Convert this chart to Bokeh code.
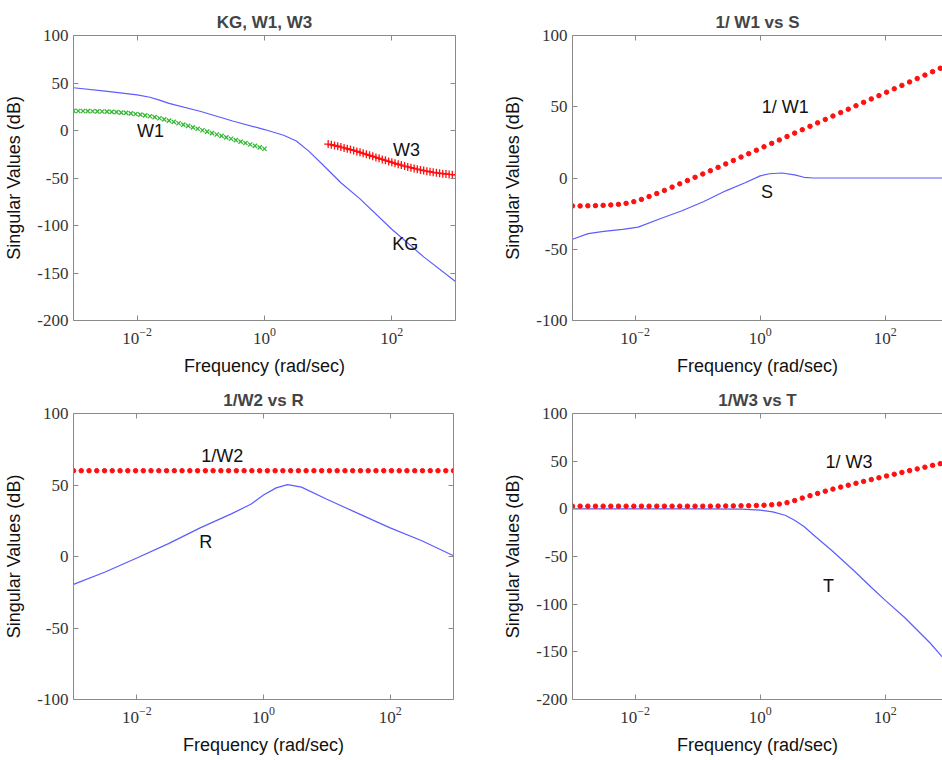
import numpy as np
from bokeh.plotting import figure
from bokeh.models import Range1d, FixedTicker, LogAxis, LinearAxis, Label, ColumnDataSource
from bokeh.layouts import column, row
from bokeh.embed import file_html
from bokeh.resources import INLINE

# ---------------- data (frequency exponents log10(rad/s), values in dB) ----------------
# panel 1: KG, W1, W3
KG_EXP = [-3.0, -2.5, -2.0, -1.8, -1.65, -1.5, -1.0, -0.5, 0.0, 0.3, 0.5, 0.7, 0.9, 1.2, 1.5, 2.0, 2.5, 3.0]
KG_DB = [45, 41.5, 37.5, 35, 32, 28.5, 20, 10, 1, -5, -11, -22, -35, -55, -72, -104, -133, -159]

W1_EXP = [-3.0, -2.925, -2.85, -2.775, -2.7, -2.625, -2.55, -2.475, -2.4, -2.325, -2.25,
          -2.175, -2.1, -2.025, -1.95, -1.875, -1.8, -1.725, -1.65, -1.575, -1.5,
          -1.425, -1.35, -1.275, -1.2, -1.125, -1.05, -0.975, -0.9, -0.825, -0.75,
          -0.675, -0.6, -0.525, -0.45, -0.375, -0.3, -0.225, -0.15, -0.075, 0.0]
W1_DB = [20.6, 20.5, 20.5, 20.4, 20.3, 20.2, 20.0, 19.8, 19.6, 19.3, 18.9,
         18.5, 18.0, 17.4, 16.7, 15.9, 15.0, 14.0, 12.9, 11.7, 10.4,
         9.0, 7.6, 6.2, 4.8, 3.3, 1.8, 0.3, -1.2, -2.7, -4.2,
         -5.7, -7.2, -8.7, -10.2, -11.7, -13.2, -14.7, -16.2, -17.7, -19.2]

W3_EXP = [1.0, 1.05, 1.1, 1.15, 1.2, 1.25, 1.3, 1.35, 1.4, 1.45, 1.5,
          1.55, 1.6, 1.65, 1.7, 1.75, 1.8, 1.85, 1.9, 1.95, 2.0,
          2.05, 2.1, 2.15, 2.2, 2.25, 2.3, 2.35, 2.4, 2.45, 2.5,
          2.55, 2.6, 2.65, 2.7, 2.75, 2.8, 2.85, 2.9, 2.95, 3.0]
W3_DB = [-14.3, -15.0, -15.8, -16.6, -17.4, -18.3, -19.2, -20.1, -21.0, -22.0, -23.0,
         -24.0, -25.1, -26.1, -27.2, -28.3, -29.3, -30.4, -31.4, -32.5, -33.5,
         -34.5, -35.5, -36.4, -37.4, -38.3, -39.1, -39.9, -40.7, -41.5, -42.2,
         -42.8, -43.4, -44.0, -44.5, -45.0, -45.4, -45.8, -46.2, -46.5, -46.8]

# shared dotted-curve frequency grid
DOT_EXP = [-3.0, -2.878, -2.755, -2.633, -2.51, -2.388, -2.265, -2.143, -2.02, -1.898,
           -1.776, -1.653, -1.531, -1.408, -1.286, -1.163, -1.041, -0.918, -0.796, -0.673,
           -0.551, -0.429, -0.306, -0.184, -0.061, 0.061, 0.184, 0.306, 0.429, 0.551,
           0.673, 0.796, 0.918, 1.041, 1.163, 1.286, 1.408, 1.531, 1.653, 1.776,
           1.898, 2.02, 2.143, 2.265, 2.388, 2.51, 2.633, 2.755, 2.878, 3.0]

# panel 2: 1/W1 vs S
INV_W1_DB = [-19.6, -19.6, -19.5, -19.4, -19.2, -18.9, -18.5, -17.8, -16.6, -15.0,
             -13.0, -10.9, -8.7, -6.4, -4.1, -1.8, 0.5, 2.8, 5.1, 7.5,
             9.9, 12.3, 14.7, 17.1, 19.5, 21.9, 24.3, 26.7, 29.1, 31.5,
             33.9, 36.3, 38.7, 41.1, 43.5, 45.9, 48.3, 50.7, 53.1, 55.5,
             57.8, 60.2, 62.6, 65.0, 67.4, 69.8, 72.2, 74.6, 77.0, 79.4]
S_EXP = [-3.0, -2.75, -2.5, -2.2, -1.95, -1.6, -1.25, -0.9, -0.55, -0.25, 0.0, 0.15, 0.35, 0.55, 0.7, 0.85, 1.5, 3.0]
S_DB = [-43, -39, -37.5, -36, -34.5, -28.6, -23, -16.5, -9, -3.5, 1.5, 3.0, 3.5, 2.2, 0.5, 0.0, 0.0, 0.0]

# panel 3: 1/W2 vs R
INV_W2_DB = [60, 60, 60, 60, 60, 60, 60, 60, 60, 60,
             60, 60, 60, 60, 60, 60, 60, 60, 60, 60,
             60, 60, 60, 60, 60, 60, 60, 60, 60, 60,
             60, 60, 60, 60, 60, 60, 60, 60, 60, 60,
             60, 60, 60, 60, 60, 60, 60, 60, 60, 60]
R_EXP = [-3.0, -2.5, -2.0, -1.5, -1.0, -0.5, -0.2, 0.0, 0.2, 0.38, 0.6, 1.0, 1.5, 2.0, 2.5, 3.0]
R_DB = [-19.5, -10.8, -1.0, 9, 20, 30, 36.5, 43, 48, 50.3, 48.5, 40, 30, 20, 11, 0.5]

# panel 4: 1/W3 vs T
INV_W3_DB = [2.8, 2.8, 2.8, 2.8, 2.8, 2.8, 2.8, 2.8, 2.8, 2.8,
             2.8, 2.8, 2.8, 2.8, 2.8, 2.8, 2.8, 2.8, 2.8, 2.9,
             3.0, 3.1, 3.2, 3.3, 3.5, 3.8, 4.3, 5.0, 6.5, 8.7,
             11.3, 13.8, 16.2, 18.5, 20.7, 22.8, 24.8, 26.8, 28.8, 30.7,
             32.6, 34.5, 36.3, 38.2, 40.1, 41.9, 43.7, 45.6, 47.4, 49.0]
T_EXP = [-3.0, -1.0, -0.3, 0.0, 0.2, 0.4, 0.55, 0.7, 0.9, 1.14, 1.5, 1.77, 2.0, 2.3, 2.72, 3.0]
T_DB = [0.0, 0.0, -0.3, -1.3, -3.2, -6.7, -12, -18.5, -30, -43.4, -65, -82, -96, -113.5, -141, -162]

X_TICKS = [1e-2, 1e0, 1e2]
Y_TICKS_300 = [-200, -150, -100, -50, 0, 50, 100]
Y_TICKS_200 = [-100, -50, 0, 50, 100]

# ---------------- styling ----------------
SANS = "Liberation Sans"
SERIF = "Liberation Serif"
AX_COLOR = "#8a8a8a"
BLUE = "#5c5cff"
RED = "#ff1010"
GREEN = "#33b833"


def f(exps):
    return [10.0 ** e for e in exps]


def style_axis(ax, show_labels=True):
    ax.axis_line_color = AX_COLOR
    ax.major_tick_line_color = AX_COLOR
    ax.major_tick_in = 5
    ax.major_tick_out = 0
    ax.minor_tick_line_color = None
    ax.major_label_text_font = SERIF
    ax.major_label_text_font_size = "17px"
    ax.major_label_text_color = "#333333"
    ax.axis_label_text_font = SANS
    ax.axis_label_text_font_size = "18px"
    ax.axis_label_text_font_style = "normal"
    ax.axis_label_text_color = "#111111"
    if not show_labels:
        ax.major_label_text_font_size = "1px"
        ax.major_label_text_color = None
        ax.major_label_standoff = 0


def panel(title, ylo, yhi, yticks, xhi, width, height, bl, br, bt, bb, right_axis):
    p = figure(width=width, height=height, x_axis_type="log",
               x_range=Range1d(1e-3, xhi), y_range=Range1d(ylo, yhi),
               output_backend="svg", toolbar_location=None,
               min_border_left=bl, min_border_right=br,
               min_border_top=bt, min_border_bottom=bb,
               title=title)
    p.title.text_font = SANS
    p.title.text_font_size = "17px"
    p.title.text_font_style = "bold"
    p.title.align = "center"
    p.title.standoff = 7
    p.outline_line_color = None
    p.xgrid.grid_line_color = None
    p.ygrid.grid_line_color = None
    p.background_fill_color = "white"
    p.border_fill_color = "white"

    p.xaxis.ticker = FixedTicker(ticks=X_TICKS, minor_ticks=[])
    p.yaxis.ticker = FixedTicker(ticks=yticks, minor_ticks=[])
    p.yaxis.major_label_overrides = {t: str(t) for t in yticks}
    p.xaxis.axis_label = "Frequency (rad/sec)"
    p.yaxis.axis_label = "Singular Values (dB)"
    for ax in p.xaxis + p.yaxis:
        style_axis(ax)
    p.xaxis.major_label_standoff = 7
    p.xaxis.axis_label_standoff = 9
    p.yaxis.major_label_standoff = 5
    p.yaxis.axis_label_standoff = 10

    top = LogAxis(ticker=FixedTicker(ticks=X_TICKS, minor_ticks=[]))
    style_axis(top, show_labels=False)
    p.add_layout(top, "above")
    if right_axis:
        rt = LinearAxis(ticker=FixedTicker(ticks=yticks, minor_ticks=[]))
        style_axis(rt, show_labels=False)
        p.add_layout(rt, "right")
    return p


def label(p, x_exp, y, text):
    p.add_layout(Label(x=10.0 ** x_exp, y=y, text=text, text_align="center",
                       text_baseline="middle", text_font=SANS, text_font_size="18px",
                       text_color="#111111"))


XHI_RIGHT = 10.0 ** 2.914

# panel 1
p1 = panel("KG, W1, W3", -200, 100, Y_TICKS_300, 1e3,
           500, 380, 73, 45, 32, 60, True)
p1.line(f(KG_EXP), KG_DB, line_color=BLUE, line_width=1.2)
p1.scatter(f(W1_EXP), W1_DB, marker="x", size=6, line_color=GREEN, line_width=1.3)
p1.scatter(f(W3_EXP), W3_DB, marker="cross", size=8, line_color=RED, line_width=1.3)
label(p1, -1.79, 0, "W1")
label(p1, 2.23, -20, "W3")
label(p1, 2.21, -119, "KG")

# panel 2
p2 = panel("1/ W1 vs S", -100, 100, Y_TICKS_200, XHI_RIGHT,
           442, 380, 70, 0, 35, 60, False)
p2.line(f(S_EXP), S_DB, line_color=BLUE, line_width=1.2)
p2.scatter(f(DOT_EXP), INV_W1_DB, marker="circle", size=4.5, fill_color=RED, line_color=RED)
label(p2, 0.40, 50, "1/ W1")
label(p2, 0.11, -10, "S")

# panel 3
p3 = panel("1/W2 vs R", -100, 100, Y_TICKS_200, 1e3,
           500, 380, 73, 47, 33, 60, True)
p3.line(f(R_EXP), R_DB, line_color=BLUE, line_width=1.2)
p3.scatter(f(DOT_EXP), INV_W2_DB, marker="circle", size=4.5, fill_color=RED, line_color=RED)
label(p3, -0.65, 70, "1/W2")
label(p3, -0.91, 10, "R")

# panel 4
p4 = panel("1/W3 vs T", -200, 100, Y_TICKS_300, XHI_RIGHT,
           442, 380, 71, 0, 33, 61, False)
p4.line(f(T_EXP), T_DB, line_color=BLUE, line_width=1.2)
p4.scatter(f(DOT_EXP), INV_W3_DB, marker="circle", size=4.5, fill_color=RED, line_color=RED)
label(p4, 1.42, 49, "1/ W3")
label(p4, 1.09, -81, "T")

layout = column(row(p1, p2), row(p3, p4))
open("out.html", "w").write(file_html(layout, INLINE))
